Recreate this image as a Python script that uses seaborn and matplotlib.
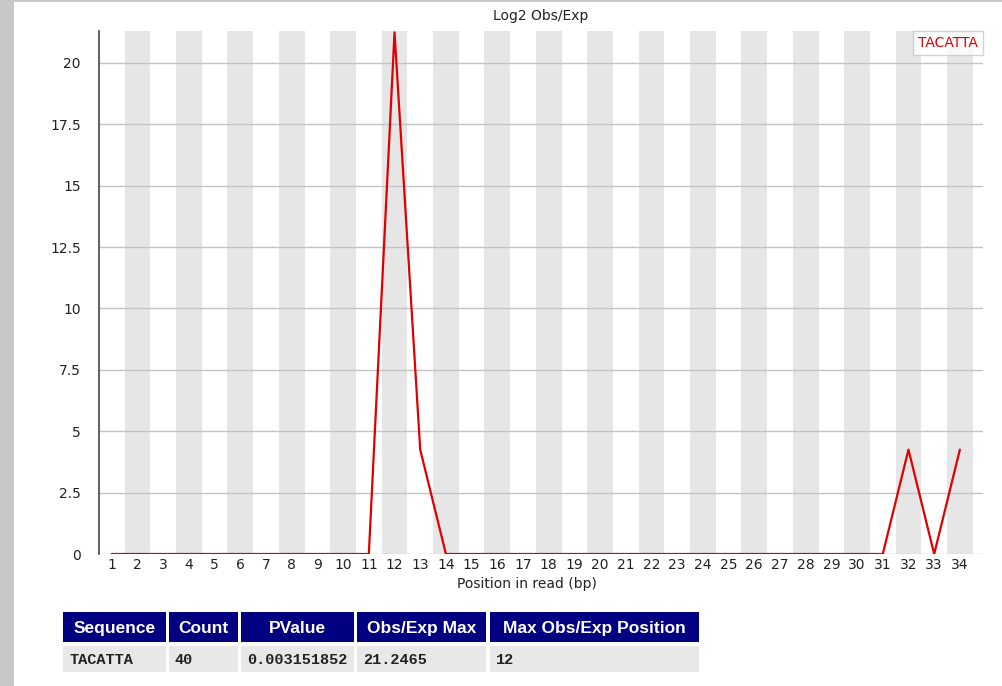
import numpy as np
import pandas as pd
import seaborn as sns
import matplotlib.pyplot as plt
from matplotlib.patches import Rectangle

# kmer profile
positions = list(range(1, 35))
obs_exp = [0.0] * 34
obs_exp[12 - 1] = 21.2465
obs_exp[13 - 1] = 4.25
obs_exp[32 - 1] = 4.25
obs_exp[34 - 1] = 4.25
kmer = 'TACATTA'

y_ticks = [0, 2.5, 5, 7.5, 10, 12.5, 15, 17.5, 20]
y_tick_labels = ['0', '2.5', '5', '7.5', '10', '12.5', '15', '17.5', '20']

table_header = ['Sequence', 'Count', 'PValue', 'Obs/Exp Max', 'Max Obs/Exp Position']
table_row = ['TACATTA', '40', '0.003151852', '21.2465', '12']

W, H = 1003, 686


def fx(px):
    return px / W


def fy(py):
    return 1 - py / H


sns.set_style("white")
plt.rcParams['font.family'] = ['DejaVu Sans']

fig = plt.figure(figsize=(W / 100, H / 100), dpi=100)

# grey page edges
fig.add_artist(Rectangle((0, 0), fx(14), 1, transform=fig.transFigure,
                         facecolor='#c8c8c8', edgecolor='none'))
fig.add_artist(Rectangle((0, fy(2)), 1, 2 / H, transform=fig.transFigure,
                         facecolor='#c8c8c8', edgecolor='none'))

ax = fig.add_axes([fx(99), fy(554), fx(983 - 99), (554 - 31) / H])

df = pd.DataFrame({'pos': positions, 'val': obs_exp})

# alternating stripes behind every even position
for p in positions:
    if p % 2 == 0:
        ax.axvspan(p - 0.5, p + 0.5, color='#e6e6e6', lw=0, zorder=0)

for t in y_ticks:
    ax.axhline(t, color='#c4c4c4', lw=1, zorder=1)

sns.lineplot(data=df, x='pos', y='val', color='#e00000', lw=1.6, ax=ax,
             label=kmer, zorder=3)

ax.set_xlim(0.5, 34.9)
ax.set_ylim(0, 21.3)
ax.set_xticks(positions)
ax.set_xticklabels([str(p) for p in positions], fontsize=10)
ax.set_yticks(y_ticks)
ax.set_yticklabels(y_tick_labels, fontsize=10)
ax.tick_params(axis='both', length=0, colors='#222222')
ax.tick_params(axis='y', pad=13)
ax.tick_params(axis='x', pad=3)
ax.set_xlabel('')
ax.set_ylabel('')

for s in ['top', 'right', 'bottom']:
    ax.spines[s].set_visible(False)
ax.spines['left'].set_color('#444444')
ax.spines['left'].set_linewidth(1.2)

leg = ax.legend(loc='upper right', handlelength=0, handletextpad=0,
                labelcolor='#e00000', fontsize=10, frameon=True, fancybox=False,
                borderaxespad=0, borderpad=0.35)
leg.get_frame().set_edgecolor('#c8c8c8')
leg.get_frame().set_linewidth(1)
for h in leg.legend_handles:
    h.set_visible(False)

fig.text(fx(541), fy(16), 'Log2 Obs/Exp', ha='center', va='center', fontsize=10,
         color='#222222')
fig.text(fx(527), fy(584), 'Position in read (bp)', ha='center', va='center',
         fontsize=10, color='#222222')

# summary table under the plot
col_edges = [(63, 166), (169, 238), (241, 354), (357, 486), (490, 699)]
for (x0, x1), head, cell in zip(col_edges, table_header, table_row):
    fig.add_artist(Rectangle((fx(x0), fy(642)), fx(x1 - x0), (642 - 612) / H,
                             transform=fig.transFigure, facecolor='#000080',
                             edgecolor='none'))
    fig.text(fx((x0 + x1) / 2), fy(627), head, ha='center', va='center_baseline',
             color='white', fontsize=12.5, fontweight='bold', family='Liberation Sans')
    fig.add_artist(Rectangle((fx(x0), fy(672)), fx(x1 - x0), (672 - 646) / H,
                             transform=fig.transFigure, facecolor='#e8e8e8',
                             edgecolor='none'))
    fig.text(fx(x0 + 6), fy(659), cell, ha='left', va='center_baseline', color='#222222',
             fontsize=11, fontweight='bold', family='Liberation Mono')

fig.savefig('out.png', dpi=100)
